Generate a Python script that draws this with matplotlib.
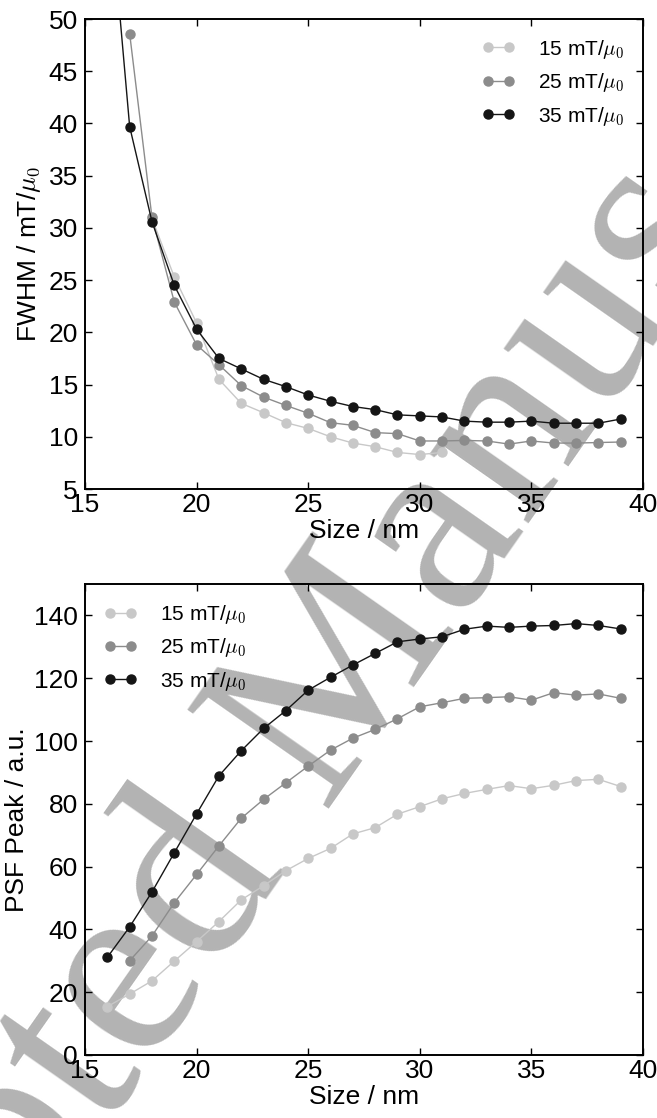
import numpy as np
import matplotlib
matplotlib.use('Agg')
import matplotlib.pyplot as plt

plt.rcParams['font.family'] = ['Liberation Sans', 'DejaVu Sans']
plt.rcParams['mathtext.fontset'] = 'cm'
plt.rcParams['font.size'] = 19

# data
size_fwhm_15 = np.arange(18, 32)
size_fwhm_25 = np.arange(17, 40)
size_fwhm_35 = np.arange(16, 40)
fwhm_15 = [30.9, 25.3, 20.9, 15.5, 13.2, 12.3, 11.35, 10.8,
           10.0, 9.4, 9.05, 8.5, 8.3, 8.5]
fwhm_25 = [48.6, 31.0, 22.9, 18.8, 16.9, 14.9, 13.8, 13.0, 12.25,
           11.35, 11.1, 10.4, 10.3, 9.6, 9.6, 9.65, 9.6, 9.3, 9.6,
           9.4, 9.4, 9.45, 9.5]
fwhm_35 = [64.0, 39.7, 30.6, 24.5, 20.3, 17.5, 16.5, 15.5, 14.8, 14.0,
           13.4, 12.9, 12.6, 12.1, 12.0, 11.9, 11.5, 11.4, 11.4, 11.5,
           11.3, 11.3, 11.3, 11.7]

size_peak_15 = np.arange(16, 40)
size_peak_25 = np.arange(17, 40)
size_peak_35 = np.arange(16, 40)
peak_15 = [15.4, 19.4, 23.6, 29.9, 36.1, 42.5, 49.4, 53.9, 58.7, 62.6,
           65.8, 70.4, 72.4, 76.7, 79.1, 81.6, 83.3, 84.6, 85.8, 84.8,
           85.9, 87.4, 87.8, 85.5]
peak_25 = [30.0, 37.9, 48.5, 57.5, 66.6, 75.4, 81.4, 86.7, 92.0,
           97.1, 100.9, 103.7, 107.1, 110.9, 112.2, 113.6, 113.8, 114.1, 113.0,
           115.4, 114.6, 115.0, 113.6]
peak_35 = [31.1, 40.8, 51.9, 64.4, 76.8, 88.9, 96.9, 104.0, 109.7, 116.2,
           120.3, 124.2, 127.9, 131.6, 132.5, 133.2, 135.6, 136.6, 136.2, 136.6,
           136.8, 137.4, 136.8, 135.7]

labels = ['15 mT/$\\mu_0$', '25 mT/$\\mu_0$', '35 mT/$\\mu_0$']
colors = ['#c8c8c8', '#8c8c8c', '#151515']

fig = plt.figure(figsize=(6.57, 11.18), dpi=100)

# watermark sits behind the (transparent) axes
fig.text(0.476, 0.355, 'Accepted Manuscript', rotation=55,
         ha='center', va='center', rotation_mode='anchor',
         fontsize=189, family='Liberation Serif', color='#b3b3b3', zorder=-1)

ax1 = fig.add_axes([0.1294, 0.5626, 0.8493, 0.4204])
ax2 = fig.add_axes([0.1294, 0.0564, 0.8493, 0.4212])


def style_axis(ax):
    ax.set_facecolor('none')
    for sp in ax.spines.values():
        sp.set_linewidth(1.4)
    ax.tick_params(direction='in', top=True, right=True, length=5,
                   width=1, labelsize=19)
    ax.tick_params(axis='x', pad=3)
    ax.tick_params(axis='y', pad=5)
    ax.set_xlim(15, 40)
    ax.set_xticks([15, 20, 25, 30, 35, 40])
    ax.set_xlabel('Size / nm', fontsize=19, labelpad=1)


top_x = [size_fwhm_15, size_fwhm_25, size_fwhm_35]
top_y = [fwhm_15, fwhm_25, fwhm_35]
for xs, ys, c, lab in zip(top_x, top_y, colors, labels):
    ax1.plot(xs, ys, '-o', color=c, mec=c, mfc=c, ms=6.5, lw=1.0, label=lab)
style_axis(ax1)
ax1.set_ylim(5, 50)
ax1.set_yticks(np.arange(5, 51, 5))
ax1.set_ylabel('FWHM / mT/$\\mu_0$', fontsize=19, labelpad=4)
ax1.legend(loc='upper right', frameon=False, numpoints=2, fontsize=15,
           handlelength=1.6, handletextpad=1.1, labelspacing=0.5,
           borderaxespad=0.5)

bot_x = [size_peak_15, size_peak_25, size_peak_35]
bot_y = [peak_15, peak_25, peak_35]
for xs, ys, c, lab in zip(bot_x, bot_y, colors, labels):
    ax2.plot(xs, ys, '-o', color=c, mec=c, mfc=c, ms=6.5, lw=1.0, label=lab)
style_axis(ax2)
ax2.set_ylim(0, 150)
ax2.set_yticks(np.arange(0, 141, 20))
ax2.set_ylabel('PSF Peak / a.u.', fontsize=19, labelpad=4)
ax2.legend(loc='upper left', frameon=False, numpoints=2, fontsize=15,
           handlelength=1.6, handletextpad=1.1, labelspacing=0.5,
           borderaxespad=0.5)

fig.savefig('out.png', dpi=100)
